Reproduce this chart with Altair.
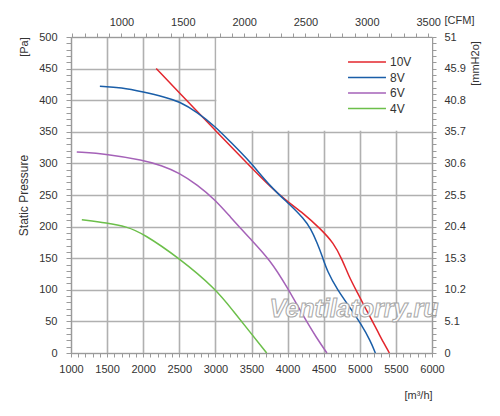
import altair as alt
import pandas as pd

# ---------------- data ----------------
series_names = ["10V", "8V", "6V", "4V"]
series_colors = ["#e3262d", "#1a5ea8", "#a562b8", "#6cbf4a"]

q_10v = [2180, 2500, 3000, 3500, 3760, 3990, 4220, 4450, 4640, 4755, 4850, 4960, 5100, 5240, 5330, 5410]
p_10v = [450, 412, 352, 293, 263, 240, 221, 197, 174, 148, 121, 97, 66, 36, 16, 0]

q_8v = [1400, 1700, 2000, 2300, 2500, 2750, 3000, 3200, 3480, 3760, 4040, 4220, 4320, 4410, 4480, 4550, 4690, 4870, 5010, 5150, 5215]
p_8v = [422, 420, 413, 405, 398, 381, 358, 335, 303, 263, 234, 213, 197, 174, 153, 129, 100, 71, 47, 19, 0]

q_6v = [1080, 1500, 2000, 2250, 2500, 2750, 3000, 3200, 3480, 3760, 3990, 4220, 4400, 4545]
p_6v = [318, 315, 305, 297, 285, 266, 242, 216, 181, 147, 105, 58, 24, 0]

q_4v = [1150, 1500, 1770, 2000, 2500, 3000, 3250, 3480, 3710]
p_4v = [211, 206, 200, 189, 150, 102, 66, 33, 0]

x_ticks = list(range(1000, 6001, 100))          # m3/h
y_ticks = list(range(0, 501, 10))               # Pa
cfm_ticks = list(range(600, 3501, 100))         # CFM
M3H_PER_CFM = 1.699
MM_PER_PA = 0.102
mm_ticks = [round(v * MM_PER_PA, 3) for v in y_ticks]

legend_box = {"x1": [3000], "x2": [6000], "y1": [350], "y2": [500]}

rows = []
for name, qs, ps in zip(series_names, [q_10v, q_8v, q_6v, q_4v], [p_10v, p_8v, p_6v, p_4v]):
    for i, (q, p) in enumerate(zip(qs, ps)):
        rows.append({"series": name, "q": q, "p": p, "order": i})
df = pd.DataFrame(rows)

# ---------------- style ----------------
W, H = 361, 316
FONT = "Liberation Sans"
LABEL = "#333333"
AXIS = "#9a9a9a"
GRID = "#b0b0b0"

x_scale = alt.Scale(domain=[1000, 6000], nice=False, zero=False)
y_scale = alt.Scale(domain=[0, 500], nice=False)

common = dict(labelFont=FONT, labelFontSize=11, labelColor=LABEL, tickColor=AXIS,
              domainColor=AXIS, labelOverlap=False, labelFlush=False, labelBound=False,
              titleFont=FONT, titleFontWeight="normal", titleColor=LABEL)

x_axis = alt.Axis(orient="bottom", values=x_ticks, format="d",
                  labelExpr="datum.value % 500 === 0 ? datum.label : ''",
                  grid=True, gridColor=GRID, gridWidth=1.6,
                  gridOpacity={"condition": {"test": "datum.value % 500 === 0", "value": 1}, "value": 0},
                  tickSize=4, labelPadding=6,
                  title="[m³/h]", titleX=347, titleY=42, titleAngle=0, titleAlign="center",
                  titleBaseline="middle", titleFontSize=11, **common)

y_axis = alt.Axis(orient="left", values=y_ticks, format="d",
                  labelExpr="datum.value % 50 === 0 ? datum.label : ''",
                  grid=True, gridColor=GRID, gridWidth=1.6,
                  gridOpacity={"condition": {"test": "datum.value % 50 === 0", "value": 1}, "value": 0},
                  tickSize=5, labelPadding=9,
                  title="Static Pressure", titleX=-48, titleY=158, titleAngle=270,
                  titleAlign="center", titleBaseline="middle", titleFontSize=12, **common)

box = alt.Chart(pd.DataFrame(legend_box)).mark_rect(color="white", xOffset=1, yOffset=-1).encode(
    x=alt.X("x1:Q", scale=x_scale, axis=x_axis),
    x2="x2:Q",
    y=alt.Y("y1:Q", scale=y_scale, axis=y_axis),
    y2="y2:Q",
)

lines = alt.Chart(df).mark_line(strokeWidth=1.5, interpolate="basis").encode(
    x=alt.X("q:Q", scale=x_scale, axis=x_axis),
    y=alt.Y("p:Q", scale=y_scale, axis=y_axis),
    order="order:Q",
    color=alt.Color("series:N", sort=series_names,
                    scale=alt.Scale(domain=series_names, range=series_colors),
                    legend=alt.Legend(orient="none", legendX=290, legendY=19, title=None,
                                      symbolType="M-4,0H4", symbolSize=90, symbolStrokeWidth=1.5,
                                      labelOffset=17, rowPadding=3.5, padding=0,
                                      labelFont=FONT, labelFontSize=12, labelColor=LABEL)),
)

watermark = alt.Chart(pd.DataFrame({"t": ["Ventilatorry.ru"]})).mark_text(
    font=FONT, fontSize=25, fontStyle="italic", fontWeight="bold", fill="white",
    stroke="#a0a0a0", strokeWidth=1, align="center", baseline="middle", opacity=0.9
).encode(x=alt.value(283), y=alt.value(272), text="t:N")

pa = alt.Chart(pd.DataFrame({"t": ["[Pa]"]})).mark_text(
    font=FONT, fontSize=11, color=LABEL, angle=270, align="center", baseline="middle"
).encode(x=alt.value(-46), y=alt.value(10), text="t:N")

inner = alt.layer(box, lines, watermark, pa)

top = alt.Chart(pd.DataFrame({"cfm": cfm_ticks})).mark_point(opacity=0).encode(
    x=alt.X("cfm:Q",
            scale=alt.Scale(domain=[1000 / M3H_PER_CFM, 6000 / M3H_PER_CFM], nice=False, zero=False),
            axis=alt.Axis(orient="top", values=cfm_ticks, format="d",
                          labelExpr="datum.value % 500 === 0 ? datum.label : ''",
                          grid=False, tickSize=4, labelPadding=6, zindex=1,
                          title="[CFM]", titleX=373, titleY=-14, titleAngle=0, titleAlign="left",
                          titleBaseline="alphabetic", titleFontSize=11, **common))
)

mm_label = ("abs(datum.value / 5.1 - round(datum.value / 5.1)) < 0.01 ? "
            "(abs(datum.value - round(datum.value)) < 0.01 ? format(datum.value, '.0f') : format(datum.value, '.1f')) : ''")

right = alt.Chart(pd.DataFrame({"mm": mm_ticks})).mark_point(opacity=0).encode(
    y=alt.Y("mm:Q", scale=alt.Scale(domain=[0, 500 * MM_PER_PA], nice=False),
            axis=alt.Axis(orient="right", values=mm_ticks,
                          labelExpr=mm_label,
                          grid=False, tickSize=4, labelPadding=8, zindex=1,
                          title="[mmH2o]", titleX=43, titleY=26, titleAngle=270, titleAlign="center",
                          titleBaseline="middle", titleFontSize=11, **common))
)

chart = alt.layer(inner, top, right).resolve_scale(x="independent", y="independent").properties(
    width=W, height=H, autosize="none",
    padding={"left": 63, "top": 29, "right": 60, "bottom": 55},
    background="white",
).configure_view(strokeWidth=0)

chart.save("out.html", embed_options={"renderer": "svg", "actions": False})
